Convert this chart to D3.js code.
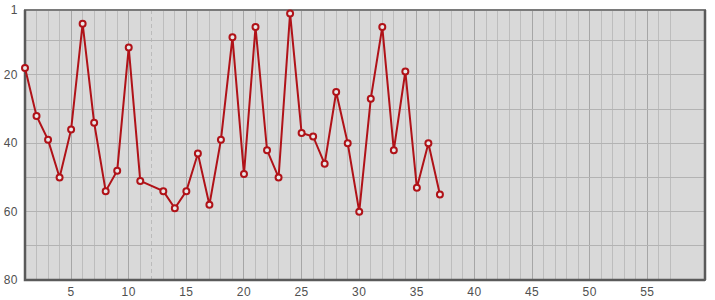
<!DOCTYPE html>
<html lang="en">
<head>
    <meta charset="utf-8" />
    <title>Rank chart</title>
    <style type="text/css">
        body { margin: 0; background: #fff; }
        .tick-label { font-family: "Liberation Sans", Arial, sans-serif; font-size: 12px; fill: #505050; letter-spacing: 0.5px; }
    </style>
    <script type="text/javascript" src="https://cdn.jsdelivr.net/npm/d3@7"></script>
</head>
<body>
    <div id="chart"></div>
    <script type="text/javascript">
        // values (rank, 1 = top)
        const xs = [1, 2, 3, 4, 5, 6, 7, 8, 9, 10, 11, 13, 14, 15, 16, 17, 18, 19, 20,
                    21, 22, 23, 24, 25, 26, 27, 28, 29, 30, 31, 32, 33, 34, 35, 36, 37];
        const ranks = [18, 32, 39, 50, 36, 5, 34, 54, 48, 12, 51, 54, 59, 54, 43, 58, 39, 9, 49,
                       6, 42, 50, 2, 37, 38, 46, 25, 40, 60, 27, 6, 42, 19, 53, 40, 55];
        const xTicks = [5, 10, 15, 20, 25, 30, 35, 40, 45, 50, 55];
        const yTicks = [1, 20, 40, 60, 80];
        const yGrid = [10, 20, 30, 40, 50, 60, 70];
        const markerX = 12;

        const margin = {top: 10, right: 10, bottom: 20, left: 25},
            width = 715 - margin.left - margin.right,
            height = 300 - margin.top - margin.bottom;

        const x = d3.scaleLinear().domain([1, 60]).range([0, width]);
        const y = d3.scaleLinear().domain([1, 80]).range([0, height]);

        const svg = d3.select('#chart').append('svg')
            .attr('width', 715)
            .attr('height', 300)
            .append('g')
                .attr('transform', 'translate(' + margin.left + ',' + margin.top + ')');

        svg.append('rect')
            .attr('width', width)
            .attr('height', height)
            .attr('fill', '#d9d9d9');

        // vertical grid
        const vLines = d3.range(2, 58).filter(d => d !== markerX);
        svg.selectAll('.vgrid')
            .data(vLines)
            .enter().append('line')
            .attr('x1', d => x(d)).attr('x2', d => x(d))
            .attr('y1', 0).attr('y2', height)
            .attr('stroke', d => d % 5 === 0 ? '#a6a6a6' : '#bdbdbd')
            .attr('stroke-width', 1)
            .attr('shape-rendering', 'crispEdges');

        svg.append('line')
            .attr('x1', x(markerX)).attr('x2', x(markerX))
            .attr('y1', 0).attr('y2', height)
            .attr('stroke', '#bbb')
            .attr('stroke-dasharray', '4,3')
            .attr('shape-rendering', 'crispEdges');

        // horizontal grid
        svg.selectAll('.hgrid')
            .data(yGrid)
            .enter().append('line')
            .attr('x1', 0).attr('x2', width)
            .attr('y1', d => y(d)).attr('y2', d => y(d))
            .attr('stroke', '#b3b3b3')
            .attr('shape-rendering', 'crispEdges');

        // frame
        svg.append('rect')
            .attr('width', width)
            .attr('height', height)
            .attr('fill', 'none')
            .attr('stroke', '#7a7a7a')
            .attr('stroke-width', 2);
        svg.append('path')
            .attr('d', 'M0,0V' + height + 'H' + width)
            .attr('fill', 'none')
            .attr('stroke', '#5a5a5a')
            .attr('stroke-width', 2.5);
        svg.append('line')
            .attr('x1', width).attr('x2', width)
            .attr('y1', 0).attr('y2', height)
            .attr('stroke', '#5a5a5a')
            .attr('stroke-width', 2.5);

        // axes labels
        svg.selectAll('.ylab')
            .data(yTicks)
            .enter().append('text')
            .attr('class', 'tick-label')
            .attr('x', -7)
            .attr('y', d => y(d))
            .attr('dy', '0.35em')
            .attr('text-anchor', 'end')
            .text(d => d);

        svg.selectAll('.xlab')
            .data(xTicks)
            .enter().append('text')
            .attr('class', 'tick-label')
            .attr('x', d => x(d))
            .attr('y', height + 16)
            .attr('text-anchor', 'middle')
            .text(d => d);

        const data = xs.map((d, i) => ({x: d, r: ranks[i]}));

        const line = d3.line()
            .x(d => x(d.x))
            .y(d => y(d.r));

        svg.append('path')
            .datum(data)
            .attr('fill', 'none')
            .attr('stroke', '#b01218')
            .attr('stroke-width', 2)
            .attr('d', line);

        svg.selectAll('.dot')
            .data(data)
            .enter().append('circle')
            .attr('cx', d => x(d.x))
            .attr('cy', d => y(d.r))
            .attr('r', 3)
            .attr('fill', '#e8e8e8')
            .attr('stroke', '#b01218')
            .attr('stroke-width', 2);
    </script>
</body>
</html>
